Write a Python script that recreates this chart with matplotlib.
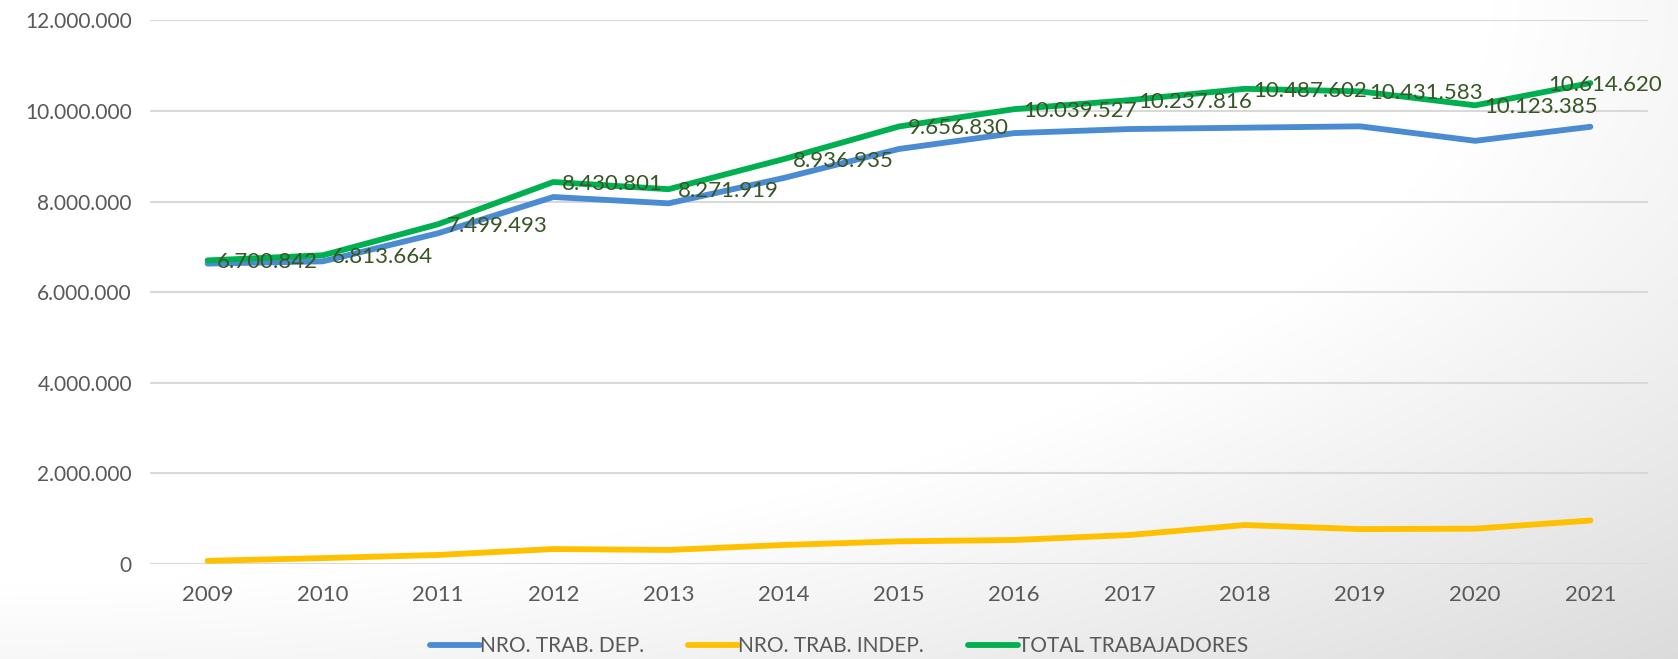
import matplotlib
matplotlib.use("Agg")
import matplotlib.pyplot as plt
import numpy as np
from matplotlib.ticker import FuncFormatter

years = ["2009", "2010", "2011", "2012", "2013", "2014", "2015",
         "2016", "2017", "2018", "2019", "2020", "2021"]
dep = [6630000, 6680000, 7300000, 8100000, 7960000, 8520000, 9160000,
       9510000, 9600000, 9630000, 9660000, 9340000, 9650000]
indep = [70000, 130000, 200000, 330000, 310000, 420000, 500000,
         530000, 640000, 860000, 770000, 780000, 960000]
total = [6700842, 6813664, 7499493, 8430801, 8271919, 8936935, 9656830,
         10039527, 10237816, 10487602, 10431583, 10123385, 10614620]
labels = ["NRO. TRAB. DEP.", "NRO. TRAB. INDEP.", "TOTAL TRABAJADORES"]
colors = ["#4A8BD2", "#FFC000", "#00B050"]

W, H = 1678, 659
fig = plt.figure(figsize=(W / 100, H / 100), dpi=100)

# background gradient
bg = fig.add_axes([0, 0, 1, 1], zorder=-10)
u = np.linspace(0, 1, 400)[None, :]
v = np.linspace(0, 1, 200)[:, None]
r = np.sqrt(u ** 2 + v ** 2) / np.sqrt(2)
val = 1 - 0.375 * np.clip(r - 0.63, 0, None)
img = np.dstack([val, val, val])
bg.imshow(img, aspect="auto", extent=[0, 1, 1, 0], interpolation="bilinear")
bg.set_axis_off()

ax = fig.add_axes([150 / W, 1 - 564 / H, 1498 / W, (564 - 20.3) / H])
ax.patch.set_alpha(0)
x = np.arange(len(years))
series = [dep, indep, total]
for s, lab, c in zip(series, labels, colors):
    ax.plot(x, s, color=c, lw=4.2, label=lab, solid_capstyle="round",
            solid_joinstyle="round", zorder=3)

label_font = "Lato"
for i, val_ in enumerate(total):
    txt = f"{val_:,}".replace(",", ".")
    dx = 9 if i < len(total) - 1 else -42
    ax.annotate(txt, (x[i], val_), xytext=(dx, -2), textcoords="offset pixels",
                ha="left", va="center", color="#375623", fontsize=16,
                family=label_font, zorder=5)

ax.set_xlim(-0.5, len(years) - 0.5)
ax.set_ylim(0, 12000000)
ax.set_yticks(np.arange(0, 12000001, 2000000))
ax.yaxis.set_major_formatter(FuncFormatter(lambda v_, p: f"{int(v_):,}".replace(",", ".")))
ax.set_xticks(x)
ax.set_xticklabels(years)
ax.grid(axis="y", color="#D9D9D9", lw=1.5, zorder=0)
ax.set_axisbelow(True)
for sp in ax.spines.values():
    sp.set_visible(False)
ax.tick_params(length=0, colors="#595959")
ax.tick_params(axis="x", pad=15, labelsize=16)
ax.tick_params(axis="y", pad=13, labelsize=15)
for t in ax.get_xticklabels() + ax.get_yticklabels():
    t.set_family(label_font)

leg = fig.legend(loc="center", bbox_to_anchor=(0.5, 1 - 646 / H), ncol=3,
                 frameon=False, handlelength=2.4, handletextpad=0.0,
                 columnspacing=2.1, prop={"family": label_font, "size": 15})
for t in leg.get_texts():
    t.set_color("#595959")
for l in leg.get_lines():
    l.set_linewidth(4.2)
    l.set_solid_capstyle("round")

fig.savefig("out.png", dpi=100)
